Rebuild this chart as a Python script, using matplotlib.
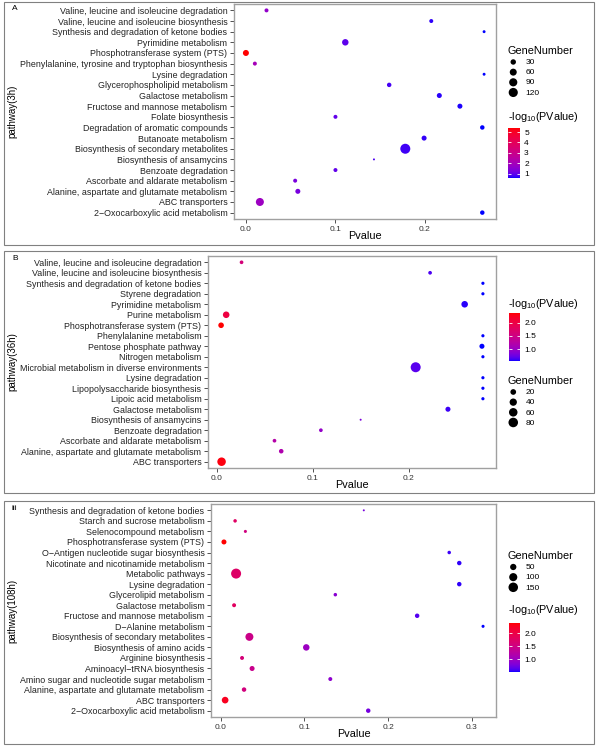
import numpy as np
import matplotlib
matplotlib.use("Agg")
import matplotlib.pyplot as plt
from matplotlib.colors import ListedColormap, Normalize
from matplotlib.cm import ScalarMappable
from matplotlib.patches import Rectangle

plt.rcParams['font.family'] = ['Liberation Sans', 'DejaVu Sans']
plt.rcParams['mathtext.default'] = 'regular'

W, H = 597, 747

# ---- data, listed top to bottom as in the chart ----
a_paths = ["Valine, leucine and isoleucine degradation",
           "Valine, leucine and isoleucine biosynthesis",
           "Synthesis and degradation of ketone bodies",
           "Pyrimidine metabolism",
           "Phosphotransferase system (PTS)",
           "Phenylalanine, tyrosine and tryptophan biosynthesis",
           "Lysine degradation",
           "Glycerophospholipid metabolism",
           "Galactose metabolism",
           "Fructose and mannose metabolism",
           "Folate biosynthesis",
           "Degradation of aromatic compounds",
           "Butanoate metabolism",
           "Biosynthesis of secondary metabolites",
           "Biosynthesis of ansamycins",
           "Benzoate degradation",
           "Ascorbate and aldarate metabolism",
           "Alanine, aspartate and glutamate metabolism",
           "ABC transporters",
           "2\u2212Oxocarboxylic acid metabolism"]
a_pval = [0.023, 0.207, 0.266, 0.111, 4e-6, 0.010, 0.266, 0.160, 0.216, 0.239,
          0.100, 0.264, 0.199, 0.178, 0.143, 0.100, 0.055, 0.058, 0.0156, 0.264]
a_genes = [12, 12, 5, 49, 40, 12, 5, 17, 24, 24,
           12, 17, 24, 150, 3, 12, 12, 24, 86, 17]

b_paths = ["Valine, leucine and isoleucine degradation",
           "Valine, leucine and isoleucine biosynthesis",
           "Synthesis and degradation of ketone bodies",
           "Styrene degradation",
           "Pyrimidine metabolism",
           "Purine metabolism",
           "Phosphotransferase system (PTS)",
           "Phenylalanine metabolism",
           "Pentose phosphate pathway",
           "Nitrogen metabolism",
           "Microbial metabolism in diverse environments",
           "Lysine degradation",
           "Lipopolysaccharide biosynthesis",
           "Lipoic acid metabolism",
           "Galactose metabolism",
           "Biosynthesis of ansamycins",
           "Benzoate degradation",
           "Ascorbate and aldarate metabolism",
           "Alanine, aspartate and glutamate metabolism",
           "ABC transporters"]
b_pval = [0.0257, 0.222, 0.277, 0.277, 0.258, 0.0097, 0.0044, 0.277, 0.276, 0.277,
          0.207, 0.277, 0.277, 0.277, 0.2406, 0.1497, 0.1083, 0.060, 0.067, 0.0049]
b_genes = [5, 5, 3, 3, 30, 30, 19, 3, 14, 3,
           90, 3, 3, 3, 14, 1, 5, 5, 10, 60]

c_paths = ["Synthesis and degradation of ketone bodies",
           "Starch and sucrose metabolism",
           "Selenocompound metabolism",
           "Phosphotransferase system (PTS)",
           "O\u2212Antigen nucleotide sugar biosynthesis",
           "Nicotinate and nicotinamide metabolism",
           "Metabolic pathways",
           "Lysine degradation",
           "Glycerolipid metabolism",
           "Galactose metabolism",
           "Fructose and mannose metabolism",
           "D\u2212Alanine metabolism",
           "Biosynthesis of secondary metabolites",
           "Biosynthesis of amino acids",
           "Arginine biosynthesis",
           "Aminoacyl\u2212tRNA biosynthesis",
           "Amino sugar and nucleotide sugar metabolism",
           "Alanine, aspartate and glutamate metabolism",
           "ABC transporters",
           "2\u2212Oxocarboxylic acid metabolism"]
c_pval = [0.171, 0.0173, 0.0296, 0.0040, 0.273, 0.285, 0.0185, 0.285, 0.137, 0.0161,
          0.2347, 0.3134, 0.0344, 0.1023, 0.0256, 0.0376, 0.131, 0.028, 0.0054, 0.1763]
c_genes = [2, 8, 5, 26, 8, 18, 170, 18, 8, 12,
           18, 5, 96, 55, 12, 26, 12, 18, 59, 18]


# blue -> red gradient interpolated in CIELAB (like ggplot's scale_colour_gradient)
M = np.array([[0.4124, 0.3576, 0.1805],
              [0.2126, 0.7152, 0.0722],
              [0.0193, 0.1192, 0.9505]])
WHITE = np.array([0.95047, 1.0, 1.08883])


def to_lab(rgb):
    rgb = np.asarray(rgb, float)
    lin = np.where(rgb <= 0.04045, rgb / 12.92, ((rgb + 0.055) / 1.055) ** 2.4)
    xyz = M @ lin / WHITE
    f = np.where(xyz > (6 / 29) ** 3, np.cbrt(xyz), xyz / (3 * (6 / 29) ** 2) + 4 / 29)
    return np.array([116 * f[1] - 16, 500 * (f[0] - f[1]), 200 * (f[1] - f[2])])


def from_lab(lab):
    L, a, b = lab
    fy = (L + 16) / 116
    f = np.array([fy + a / 500, fy, fy - b / 200])
    xyz = np.where(f > 6 / 29, f ** 3, 3 * (6 / 29) ** 2 * (f - 4 / 29)) * WHITE
    lin = np.clip(np.linalg.solve(M, xyz), 0, 1)
    rgb = np.where(lin <= 0.0031308, 12.92 * lin, 1.055 * lin ** (1 / 2.4) - 0.055)
    return np.clip(rgb, 0, 1)


lab0, lab1 = to_lab([0, 0, 1]), to_lab([1, 0, 0])
cmap = ListedColormap([from_lab(lab0 + t * (lab1 - lab0)) for t in np.linspace(0, 1, 256)])


def dot_size(g, gmin, gmax):
    f = np.clip((np.asarray(g, float) - gmin) / (gmax - gmin), 0, 1)
    d = 1.6 * (1 + 5 * np.sqrt(f)) + 0.4   # diameter in px
    return (d * 0.72) ** 2


def box(x0, y0, x1, y1):
    return [x0 / W, 1 - y1 / H, (x1 - x0) / W, (y1 - y0) / H]


fig = plt.figure(figsize=(W / 100, H / 100), dpi=100)


def panel(frame, axbox, tag, ylab, names, pvals, genes, xticks,
          size_breaks, size_y, cb_ticks, cb_fmt, cb_title_y, cb_box):
    fig.add_artist(Rectangle((frame[0] / W, 1 - frame[3] / H),
                             (frame[2] - frame[0]) / W, (frame[3] - frame[1]) / H,
                             transform=fig.transFigure, fill=False, ec='#808080', lw=0.8))
    ax = fig.add_axes(box(*axbox))
    n = len(names)
    ypos = np.arange(n)[::-1]
    logp = -np.log10(pvals)
    norm = Normalize(logp.min(), logp.max())
    gmin, gmax = min(genes), max(genes)
    ax.scatter(pvals, ypos, s=dot_size(genes, gmin, gmax), c=logp, cmap=cmap, norm=norm,
               edgecolors='none', zorder=3)
    ax.set_yticks(ypos)
    ax.set_yticklabels(names, fontsize=6.4, color='#222222')
    ax.set_ylim(-0.6, n - 0.4)
    ax.margins(x=0.05)
    ax.set_xticks(xticks)
    ax.set_xticklabels(['%.1f' % t for t in xticks], fontsize=6, color='#333333')
    ax.tick_params(length=3.2, width=0.6, color='#333333', pad=1.5)
    for s in ax.spines.values():
        s.set_color('#a0a0a0')
        s.set_linewidth(1.0)

    cx = (axbox[0] + axbox[2]) / 2 / W
    fig.text(cx, 1 - (axbox[3] + 17) / H, 'Pvalue', ha='center', va='center', fontsize=7.8)
    fig.text(12.7 / W, 1 - (axbox[1] + axbox[3]) / 2 / H, ylab, rotation=90,
             ha='center', va='center', fontsize=7)
    fig.text(12 / W, 1 - (frame[1] + 7) / H, tag, ha='left', va='center', fontsize=6)

    handles = [ax.scatter([], [], s=dot_size(v, gmin, gmax), c='black', edgecolors='none')
               for v in size_breaks]
    ax.legend(handles, [str(v) for v in size_breaks], title='GeneNumber',
              loc='upper left', bbox_to_anchor=(507 / W, 1 - size_y / H),
              bbox_transform=fig.transFigure, frameon=False, fontsize=6,
              title_fontsize=7.8, alignment='left', borderpad=0,
              handlelength=1.5, handletextpad=0.7, labelspacing=0.28,
              borderaxespad=0)

    fig.text(508 / W, 1 - cb_title_y / H, '-log$_{10}$(PValue)', ha='left', va='center',
             fontsize=7.8)
    cax = fig.add_axes(box(*cb_box))
    cb = fig.colorbar(ScalarMappable(norm=norm, cmap=cmap), cax=cax)
    cb.outline.set_visible(False)
    cb.set_ticks(cb_ticks)
    cb.set_ticklabels([cb_fmt % t for t in cb_ticks])
    cax.tick_params(direction='in', color='white', length=2.5, width=0.6,
                    labelsize=6, pad=3, left=True, right=True)
    return ax


panel((4, 2, 594, 245), (234, 4, 496, 219), 'A', 'pathway(3h)',
      a_paths, a_pval, a_genes, [0.0, 0.1, 0.2],
      [30, 60, 90, 120], 46, [1, 2, 3, 4, 5], '%d', 117, (508, 128, 520, 178))

panel((4, 251, 594, 493), (208, 256, 496, 468), 'B', 'pathway(36h)',
      b_paths, b_pval, b_genes, [0.0, 0.1, 0.2],
      [20, 40, 60, 80], 376, [1.0, 1.5, 2.0], '%.1f', 304, (509, 313, 520, 361))

panel((4, 501, 594, 744), (211, 504, 496, 717), 'iii', 'pathway(108h)',
      c_paths, c_pval, c_genes, [0.0, 0.1, 0.2, 0.3],
      [50, 100, 150], 551, [1.0, 1.5, 2.0], '%.1f', 610, (509, 623, 520, 672))

fig.savefig('out.png', dpi=100)
